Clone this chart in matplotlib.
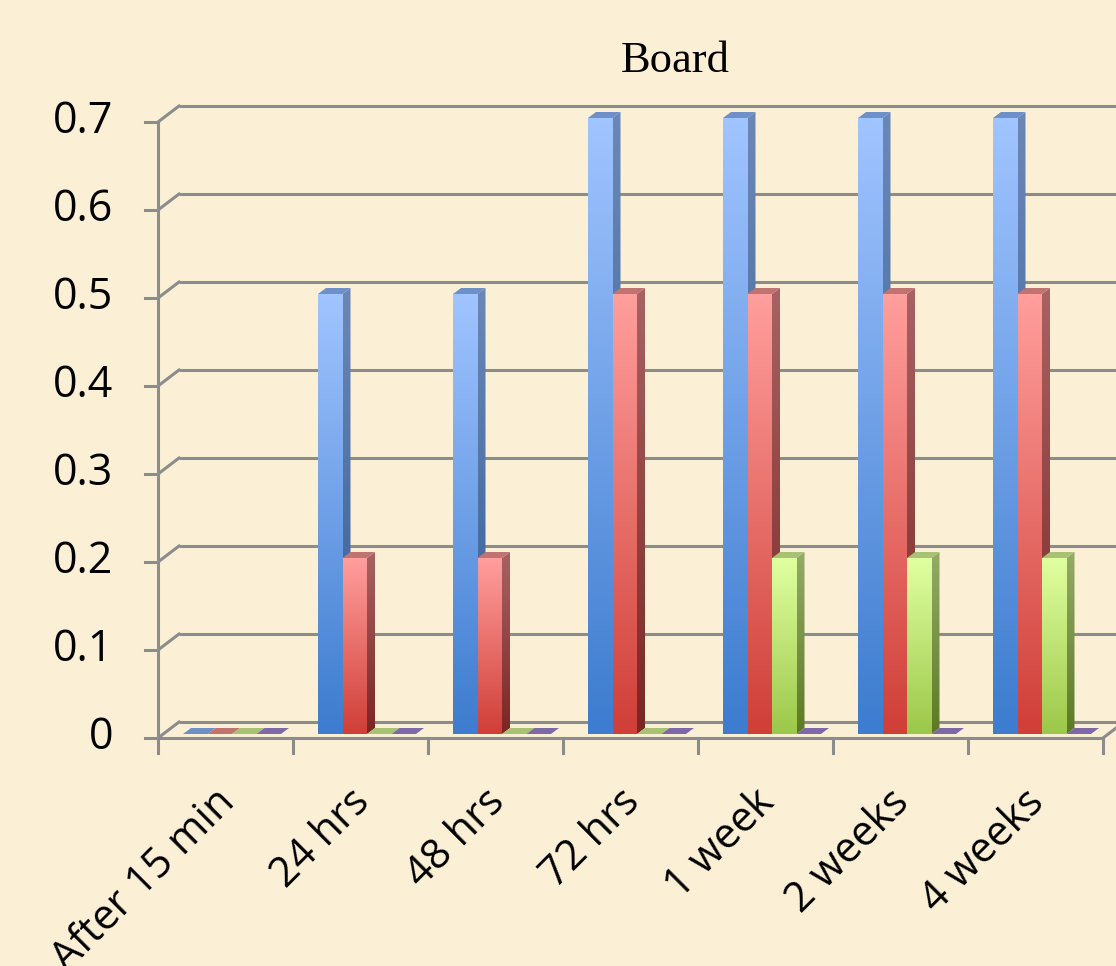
import numpy as np
import matplotlib.pyplot as plt
from matplotlib.patches import Polygon
from matplotlib.colors import LinearSegmentedColormap

categories = ["After 15 min", "24 hrs", "48 hrs", "72 hrs", "1 week", "2 weeks", "4 weeks"]
blue_vals = [0, 0.5, 0.5, 0.7, 0.7, 0.7, 0.7]
red_vals = [0, 0.2, 0.2, 0.5, 0.5, 0.5, 0.5]
green_vals = [0, 0, 0, 0, 0.2, 0.2, 0.2]
purple_vals = [0, 0, 0, 0, 0, 0, 0]
yticks = [0, 0.1, 0.2, 0.3, 0.4, 0.5, 0.6, 0.7]

# (front bottom, front top, side bottom, side top, top face)
styles = [
    ("#3d7ccf", "#a0c4ff", "#2f5a94", "#6b87b6", "#6f8fc8"),
    ("#d03f38", "#ff9e9c", "#7a2623", "#a86262", "#c07472"),
    ("#9cc84a", "#e0ffa0", "#5c7a26", "#94aa66", "#a6c272"),
    ("#5f4a8a", "#9a86c4", "#4a3a70", "#6f5e96", "#7d68a8"),
]
series = [blue_vals, red_vals, green_vals, purple_vals]

BG = "#fbf0d5"
GRID = "#8c8c8c"

fig = plt.figure(figsize=(11.16, 9.66), dpi=100, facecolor=BG)
ax = fig.add_axes([158 / 1116, (966 - 738) / 966, 945 / 1116, 616 / 966])
ax.set_facecolor(BG)
ax.axis("off")

# pixel -> data units
PX = 7 / 945
PY = 0.7 / 616
WALL_X, WALL_Y = 21 * PX, 16 * PY


def gradient_poly(verts, c_bot, c_top, z):
    cmap = LinearSegmentedColormap.from_list("g", [c_bot, c_top])
    xs = [v[0] for v in verts]
    ys = [v[1] for v in verts]
    poly = Polygon(verts, closed=True, facecolor="none", edgecolor="none", zorder=z,
                   clip_on=False)
    ax.add_patch(poly)
    im = ax.imshow(np.linspace(0, 1, 64).reshape(-1, 1), cmap=cmap, origin="lower",
                   extent=[min(xs), max(xs), min(ys), max(ys)], aspect="auto",
                   interpolation="bilinear", zorder=z)
    im.set_clip_path(poly)
    im.set_clip_box(fig.bbox)


# back wall gridlines and left wall diagonals
for v in yticks:
    ax.plot([WALL_X, 7 + 3 * WALL_X], [v + WALL_Y, v + WALL_Y], color=GRID, lw=2.2,
            clip_on=False, zorder=1, solid_capstyle="butt")
    ax.plot([0, WALL_X], [v, v + WALL_Y], color=GRID, lw=2.2, clip_on=False, zorder=1)
    ax.plot([-13 * PX, 0], [v, v], color=GRID, lw=2.2, clip_on=False, zorder=1)
    ax.text(-45 * PX, v, f"{v:g}", ha="right", va="center", fontsize=31,
            family="Open Sans", color="black")

# front y axis, front floor edge, right floor edge
ax.plot([0, 0], [0, 0.7], color=GRID, lw=2.2, clip_on=False, zorder=1)
ax.plot([0, 7], [0, 0], color=GRID, lw=2.2, clip_on=False, zorder=1)
ax.plot([7, 7 + WALL_X], [0, WALL_Y], color=GRID, lw=2.2, clip_on=False, zorder=1)
for i in range(8):
    ax.plot([i, i], [0, -15 * PY], color=GRID, lw=2.2, clip_on=False, zorder=1)

# category labels
for i, lab in enumerate(categories):
    ax.text(i + 0.52, -58 * PY, lab, rotation=45, rotation_mode="anchor",
            ha="right", va="center", fontsize=30, family="Open Sans", color="black")

# 3D bars
BW = 24.5 * PX
DX, DY = 8 * PX, 6 * PY
B0 = 4 * PY
for i in range(len(categories)):
    for k, vals in enumerate(series):
        fb, ft, sb, st, tc = styles[k]
        z = 3 + i * 10 + k
        x0 = i + (25 + k * 24.5) * PX
        x1 = x0 + BW
        top = B0 + vals[i]
        if vals[i] > 0:
            gradient_poly([(x1, B0), (x1, top), (x1 + DX, top + DY), (x1 + DX, B0 + DY)], sb, st, z)
            gradient_poly([(x0, B0), (x1, B0), (x1, top), (x0, top)], fb, ft, z + 0.1)
        ax.add_patch(Polygon([(x0, top), (x1, top), (x1 + DX, top + DY), (x0 + DX, top + DY)],
                             closed=True, facecolor=tc, edgecolor="none", zorder=z + 0.2,
                             clip_on=False))

ax.set_xlim(0, 7)
ax.set_ylim(0, 0.7)

fig.text(675 / 1116, 1 - 61 / 966, "Board", ha="center", va="center", fontsize=32,
         family="Liberation Serif", color="black")

fig.savefig("out.png", dpi=100, facecolor=BG)
